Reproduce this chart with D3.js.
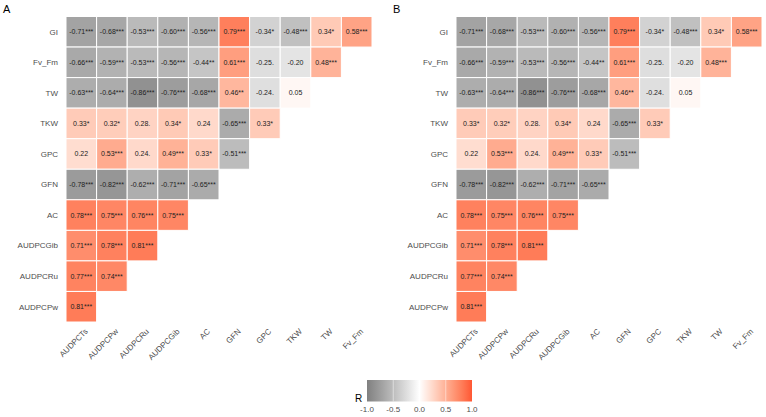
<!DOCTYPE html>
<html>
<head>
<meta charset="utf-8">
<script src="https://cdn.jsdelivr.net/npm/d3@7"></script>
<style>
  body { margin: 0; background: #fff; }
  text { font-family: "Liberation Sans", Arial, sans-serif; }
</style>
</head>
<body>
<div id="chart"></div>
<script>
// row / column variables of the lower-triangle correlation matrix
var rowVars = ["GI", "Fv_Fm", "TW", "TKW", "GPC", "GFN", "AC", "AUDPCGib", "AUDPCRu", "AUDPCPw"];
var colVars = ["AUDPCTs", "AUDPCPw", "AUDPCRu", "AUDPCGib", "AC", "GFN", "GPC", "TKW", "TW", "Fv_Fm"];

// correlation coefficients, one array per row
var corrR = [
  [-0.71, -0.68, -0.53, -0.60, -0.56, 0.79, -0.34, -0.48, 0.34, 0.58],
  [-0.66, -0.59, -0.53, -0.56, -0.44, 0.61, -0.25, -0.20, 0.48],
  [-0.63, -0.64, -0.86, -0.76, -0.68, 0.46, -0.24, 0.05],
  [0.33, 0.32, 0.28, 0.34, 0.24, -0.65, 0.33],
  [0.22, 0.53, 0.24, 0.49, 0.33, -0.51],
  [-0.78, -0.82, -0.62, -0.71, -0.65],
  [0.78, 0.75, 0.76, 0.75],
  [0.71, 0.78, 0.81],
  [0.77, 0.74],
  [0.81]
];

// significance marks, same shape
var corrSig = [
  ["***", "***", "***", "***", "***", "***", "*", "***", "*", "***"],
  ["***", "***", "***", "***", "**", "***", ".", "", "***"],
  ["***", "***", "***", "***", "***", "**", ".", ""],
  ["*", "*", ".", "*", "", "***", "*"],
  ["", "***", ".", "***", "*", "***"],
  ["***", "***", "***", "***", "***"],
  ["***", "***", "***", "***"],
  ["***", "***", "***"],
  ["***", "***"],
  ["***"]
];

var panelNames = ["A", "B"];
var legendTicks = [-1.0, -0.5, 0.0, 0.5, 1.0];

var W = 766, H = 417;
var svg = d3.select("#chart").append("svg")
  .attr("width", W).attr("height", H);

var color = d3.scaleLinear()
  .domain([-1, 0, 1])
  .range(["#808080", "#ffffff", "#ff5733"])
  .interpolate(d3.interpolateLab);

var cells = [];
corrR.forEach(function(row, i) {
  row.forEach(function(v, j) {
    cells.push({ row: rowVars[i], col: colVars[j], r: v, sig: corrSig[i][j] });
  });
});

var panelX = [66, 456];
var gridW = 306, gridTop = 16.5, gridH = 305.5;

panelNames.forEach(function(name, p) {
  var g = svg.append("g");

  var x = d3.scaleBand().domain(colVars).range([panelX[p], panelX[p] + gridW]);
  var y = d3.scaleBand().domain(rowVars).range([gridTop, gridTop + gridH]);

  g.append("text")
    .attr("x", panelX[p] - 63)
    .attr("y", 13)
    .attr("font-size", 11)
    .attr("fill", "#000")
    .text(name);

  g.selectAll("rect.cell")
    .data(cells)
    .enter().append("rect")
    .attr("class", "cell")
    .attr("x", function(d) { return x(d.col); })
    .attr("y", function(d) { return y(d.row); })
    .attr("width", x.bandwidth())
    .attr("height", y.bandwidth())
    .attr("fill", function(d) { return color(d.r); })
    .attr("stroke", "#fff")
    .attr("stroke-width", 1);

  g.selectAll("text.val")
    .data(cells)
    .enter().append("text")
    .attr("class", "val")
    .attr("x", function(d) { return x(d.col) + x.bandwidth() / 2; })
    .attr("y", function(d) { return y(d.row) + y.bandwidth() / 2; })
    .attr("dy", "0.35em")
    .attr("text-anchor", "middle")
    .attr("font-size", 7)
    .attr("fill", "#222")
    .text(function(d) { return d.r.toFixed(2) + d.sig; });

  // row labels
  g.selectAll("text.rowlab")
    .data(rowVars)
    .enter().append("text")
    .attr("class", "rowlab")
    .attr("x", panelX[p] - 8)
    .attr("y", function(d) { return y(d) + y.bandwidth() / 2; })
    .attr("dy", "0.35em")
    .attr("text-anchor", "end")
    .attr("font-size", 8)
    .attr("fill", "#4d4d4d")
    .text(function(d) { return d; });

  // column labels, rotated
  g.selectAll("text.collab")
    .data(colVars)
    .enter().append("text")
    .attr("class", "collab")
    .attr("transform", function(d) {
      return "translate(" + (x(d) + x.bandwidth() / 2 + 5) + "," + (gridTop + gridH + 8) + ") rotate(-45)";
    })
    .attr("dy", "0.35em")
    .attr("text-anchor", "end")
    .attr("font-size", 8)
    .attr("fill", "#4d4d4d")
    .text(function(d) { return d; });
});

// legend colour bar
var lx = d3.scaleLinear().domain([-1, 1]).range([367, 472]);
var defs = svg.append("defs");
var grad = defs.append("linearGradient").attr("id", "rgrad")
  .attr("x1", "0%").attr("x2", "100%").attr("y1", "0%").attr("y2", "0%");
d3.range(0, 1.0001, 0.05).forEach(function(t) {
  grad.append("stop")
    .attr("offset", (t * 100) + "%")
    .attr("stop-color", color(-1 + 2 * t));
});

var leg = svg.append("g");
leg.append("rect")
  .attr("x", lx(-1)).attr("y", 380)
  .attr("width", lx(1) - lx(-1)).attr("height", 21.5)
  .attr("fill", "url(#rgrad)");

leg.selectAll("line.tk")
  .data(legendTicks.slice(1, -1))
  .enter().append("line")
  .attr("class", "tk")
  .attr("x1", function(d) { return lx(d); })
  .attr("x2", function(d) { return lx(d); })
  .attr("y1", 380).attr("y2", 401.5)
  .attr("stroke", "#fff")
  .attr("stroke-opacity", 0.6)
  .attr("stroke-width", 0.8);

leg.selectAll("text.tl")
  .data(legendTicks)
  .enter().append("text")
  .attr("class", "tl")
  .attr("x", function(d) { return lx(d); })
  .attr("y", 412)
  .attr("text-anchor", "middle")
  .attr("font-size", 8)
  .attr("fill", "#4d4d4d")
  .text(function(d) { return d3.format(".1f")(d).replace("−", "-"); });

leg.append("text")
  .attr("x", 355).attr("y", 402)
  .attr("font-size", 10)
  .attr("fill", "#000")
  .text("R");
</script>
</body>
</html>
